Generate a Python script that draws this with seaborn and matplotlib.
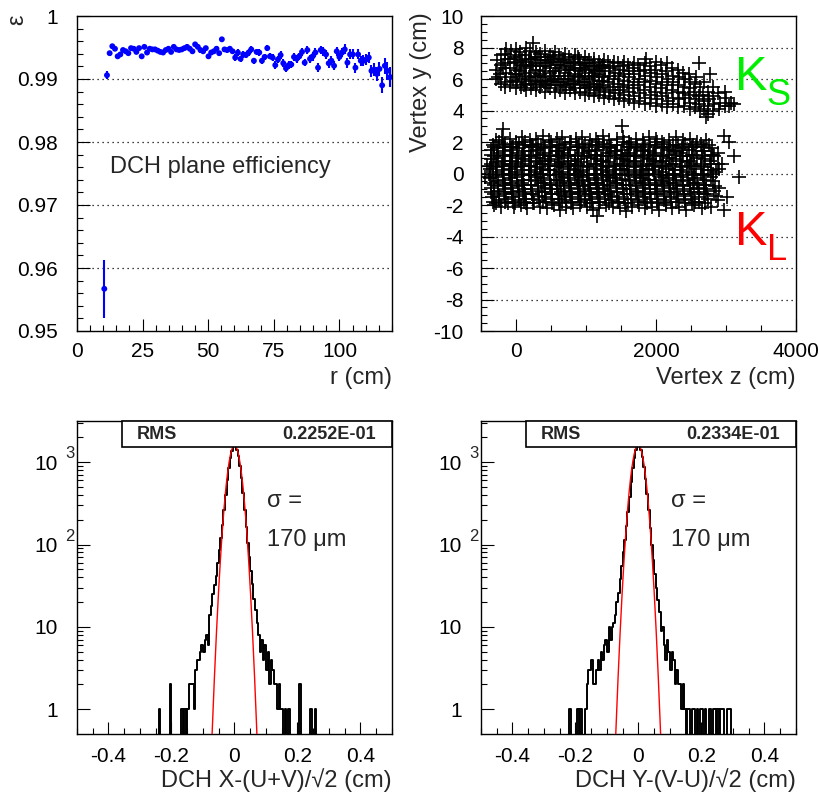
import numpy as np
import pandas as pd
import matplotlib
matplotlib.use("Agg")
import matplotlib.pyplot as plt
import seaborn as sns
from matplotlib.ticker import MultipleLocator, FixedLocator, FixedFormatter, NullFormatter
from matplotlib.patches import Rectangle

# ---------------- data ----------------
# DCH plane efficiency vs radius (bin centres, cm)
R_FIRST, R_LAST, R_NBINS = 10.4, 119.3, 108
EFF = [0.9567, 0.9906, 0.9941, 0.9952, 0.9948, 0.9936, 0.9939, 0.9946, 0.9944, 0.9941,
       0.9949, 0.9948, 0.9943, 0.9949, 0.9936, 0.9951, 0.9942, 0.9948, 0.9947, 0.9947,
       0.9945, 0.9943, 0.9942, 0.9946, 0.9948, 0.9943, 0.9951, 0.9947, 0.9946, 0.9947,
       0.9949, 0.9951, 0.9948, 0.9944, 0.9955, 0.9951, 0.9946, 0.9944, 0.9949, 0.9936,
       0.9942, 0.9944, 0.9948, 0.9941, 0.9963, 0.9947, 0.9946, 0.9948, 0.9944, 0.9934,
       0.9942, 0.9932, 0.9939, 0.9938, 0.9942, 0.9947, 0.9929, 0.9943, 0.9942, 0.9929,
       0.9935, 0.9949, 0.9936, 0.9934, 0.9922, 0.9931, 0.9938, 0.9925, 0.9917, 0.9922,
       0.9923, 0.9935, 0.9932, 0.9936, 0.9943, 0.9926, 0.9946, 0.9932, 0.9936, 0.9942,
       0.9918, 0.9946, 0.9944, 0.9939, 0.9925, 0.9929, 0.9921, 0.9944, 0.9935, 0.9942,
       0.9947, 0.9926, 0.9939, 0.9939, 0.9918, 0.9939, 0.9929, 0.9929, 0.9931, 0.9934,
       0.9913, 0.9915, 0.9908, 0.9916, 0.9890, 0.9921, 0.9913, 0.9903]
EFF_ERR_E4 = [46, 6, 4, 4, 3, 3, 3, 3, 3, 3,
              3, 3, 3, 3, 3, 3, 3, 3, 3, 3,
              3, 3, 3, 3, 3, 3, 3, 3, 3, 3,
              3, 4, 3, 4, 3, 4, 4, 4, 4, 4,
              4, 4, 4, 4, 4, 4, 4, 4, 4, 5,
              5, 5, 5, 5, 5, 5, 5, 5, 5, 5,
              5, 5, 5, 6, 6, 6, 6, 6, 6, 6,
              6, 6, 6, 6, 6, 6, 6, 6, 7, 7,
              7, 7, 7, 7, 7, 7, 7, 7, 7, 7,
              8, 8, 8, 8, 8, 8, 8, 9, 9, 9,
              10, 10, 11, 11, 13, 13, 14, 16]

# Vertex scatter: "z,y" pairs, z in units of 10 cm, y in units of 0.1 cm
KL_POINTS = """
-29,21 -20,23 -9,22 0,20 9,23 20,21 28,22 39,24 47,21 58,22 66,23 77,20 86,22 95,23 106,21 114,22 125,24 133,21 144,22 153,23 162,20 171,22 181,21 190,23 200,22 209,20 219,21 228,23 238,21 249,22 259,20 271,21
-33,18 -24,20 -15,19 -6,17 4,19 13,20 23,18 31,19 42,17 50,20 61,18 70,19 79,20 89,17 98,19 108,18 117,20 126,19 136,17 145,18 155,20 164,19 173,17 183,19 192,18 202,20 211,19 220,17 231,18 241,19 252,17 264,19 276,18
-35,15 -26,16 -17,17 -7,15 2,16 11,14 21,17 30,15 40,16 49,17 58,14 68,16 77,15 87,17 96,16 105,14 115,15 124,17 134,16 143,14 152,15 162,17 171,16 181,15 190,14 199,17 209,16 218,15 228,14 237,16 247,15 257,17 268,14 280,16
-36,12 -27,13 -18,14 -8,12 1,13 10,11 19,14 29,12 38,13 47,11 57,14 66,13 75,12 85,11 94,13 104,14 113,12 122,11 132,13 141,14 150,12 160,13 169,11 178,14 188,12 197,13 207,11 216,12 226,14 235,13 245,11 255,12 266,14 278,12 289,13
-35,9 -25,10 -16,11 -6,8 3,10 13,9 22,11 31,10 41,8 50,9 60,11 69,10 78,8 88,9 97,11 107,10 116,9 125,8 135,11 144,10 153,9 163,11 172,8 182,10 191,9 200,11 210,8 219,10 229,9 238,11 248,8 259,10 270,9 283,11
-36,6 -28,7 -19,8 -9,6 0,7 9,5 18,8 28,7 37,6 46,8 56,5 65,7 74,6 84,8 93,7 102,5 112,6 121,8 131,7 140,5 149,6 159,8 168,7 178,5 187,6 196,8 206,7 215,5 225,6 234,8 244,7 254,5 265,6 277,8 288,6
-37,3 -27,4 -17,5 -8,3 2,4 11,2 21,5 30,4 39,3 49,2 58,5 67,4 77,3 86,5 96,2 105,4 114,3 124,5 133,4 143,2 152,3 161,5 171,4 180,2 190,3 199,5 208,4 218,3 227,2 237,4 247,5 257,3 268,4 279,2 290,3
-38,0 -29,1 -20,2 -10,0 -1,1 8,-1 18,2 27,1 36,0 46,2 55,-1 64,1 74,0 83,2 92,1 102,-1 111,0 121,2 130,1 139,-1 149,0 158,2 168,1 177,-1 186,0 196,2 205,1 215,-1 224,0 234,2 244,1 254,-1 264,0 275,2 286,1
-37,-3 -28,-2 -18,-1 -9,-3 1,-2 10,-4 19,-1 29,-2 38,-3 48,-1 57,-4 66,-2 76,-3 85,-1 94,-2 104,-4 113,-3 123,-1 132,-2 141,-3 151,-4 160,-1 170,-2 179,-3 188,-1 198,-4 207,-2 217,-3 226,-1 236,-2 246,-4 256,-3 267,-1 279,-2
-36,-6 -26,-5 -17,-4 -7,-6 2,-5 12,-7 21,-4 31,-5 40,-6 49,-4 59,-7 68,-5 77,-6 87,-4 96,-5 106,-7 115,-6 124,-4 134,-5 143,-6 153,-7 162,-4 171,-5 181,-6 190,-4 200,-7 209,-5 218,-6 228,-4 238,-5 248,-7 258,-6 269,-4 281,-5
-35,-9 -26,-8 -16,-7 -7,-9 3,-8 12,-10 22,-7 31,-8 41,-9 50,-7 59,-10 69,-8 78,-9 88,-7 97,-8 106,-10 116,-9 125,-7 135,-8 144,-9 153,-10 163,-7 172,-8 182,-9 191,-7 201,-10 210,-8 220,-9 229,-7 239,-8 249,-10 260,-9 272,-7 284,-8
-35,-12 -25,-11 -16,-10 -6,-12 4,-11 13,-13 22,-10 32,-11 41,-12 51,-10 60,-13 69,-11 79,-12 88,-10 98,-11 107,-13 116,-12 126,-10 135,-11 145,-12 154,-13 163,-10 173,-11 182,-12 192,-10 201,-13 211,-11 220,-12 230,-10 240,-11 250,-13 261,-12 272,-10 283,-11
-34,-15 -24,-14 -15,-13 -5,-15 4,-14 14,-16 23,-13 33,-14 42,-15 51,-13 61,-16 70,-14 80,-15 89,-13 98,-14 108,-16 117,-15 127,-13 136,-14 145,-15 155,-16 164,-13 174,-14 183,-15 192,-13 202,-16 211,-14 221,-15 230,-13 240,-14 251,-16 262,-15 273,-13 286,-14
-33,-18 -24,-17 -14,-16 -4,-18 5,-17 15,-19 24,-16 33,-17 43,-18 52,-16 62,-19 71,-17 80,-18 90,-16 99,-17 109,-19 118,-18 127,-16 137,-17 146,-18 156,-19 165,-16 174,-17 184,-18 193,-16 203,-19 212,-17 221,-18 231,-16 241,-17 251,-19 262,-18 274,-16 288,-17
-31,-20 -22,-21 -12,-19 -3,-21 7,-20 16,-22 26,-19 35,-21 44,-22 54,-20 63,-23 72,-21 82,-22 91,-20 101,-21 110,-23 119,-22 129,-20 138,-21 148,-22 157,-24 166,-21 176,-20 185,-22 195,-21 204,-23 214,-20 223,-22 233,-21 243,-23 254,-20 266,-22 279,-21
-31,17 -18,18 -4,17 10,18 24,17 36,18 51,17 63,18 77,17 90,18 104,17 118,18 130,17 145,18 158,17 171,18 185,17 198,18 212,17 225,18 239,17 253,18 268,17
-32,11 -19,12 -5,11 8,12 22,11 35,12 48,11 62,12 75,11 89,12 102,11 116,12 129,11 142,12 156,11 170,12 183,11 196,12 210,11 223,12 237,11 251,12 266,11 281,12
-33,5 -20,6 -6,5 7,6 21,5 34,6 47,5 61,6 74,5 88,6 101,5 115,6 128,5 141,6 155,5 168,6 182,5 195,6 209,5 222,6 236,5 250,6 264,5 279,6
-33,-1 -19,0 -6,-1 8,0 21,-1 35,0 48,-1 62,0 75,-1 89,0 102,-1 116,0 129,-1 143,0 156,-1 170,0 183,-1 197,0 210,-1 224,0 238,-1 252,0 267,-1 282,0
-32,-7 -18,-6 -5,-7 9,-6 22,-7 36,-6 49,-7 63,-6 76,-7 90,-6 103,-7 117,-6 130,-7 144,-6 157,-7 171,-6 184,-7 198,-6 211,-7 225,-6 239,-7 253,-6 268,-7
-31,-13 -17,-12 -4,-13 10,-12 23,-13 37,-12 50,-13 64,-12 77,-13 91,-12 104,-13 118,-12 131,-13 145,-12 158,-13 172,-12 185,-13 199,-12 212,-13 226,-12 240,-13 254,-12 269,-13
-29,-19 -15,-18 -2,-19 12,-18 25,-19 39,-18 52,-19 66,-18 79,-19 93,-18 106,-19 120,-18 133,-19 147,-18 160,-19 174,-18 187,-19 201,-18 214,-19 228,-18 242,-19 256,-18 270,-19
-19,28 -44,-2 -42,5 151,30 116,-27 297,24 304,20 311,11 318,-2 302,-15 297,-23 290,-9 295,6
"""
KS_POINTS = """
-28,60 -29,66 -27,72 -22,57 -23,63 -21,69 -22,75
-15,55 -16,58 -14,64 -15,70 -16,76 -14,79 -8,56 -7,61 -9,67 -8,73 -7,78
0,54 1,58 -1,63 0,66 1,70 -1,74 0,79 7,55 8,60 6,65 7,69 8,72 6,77
14,53 15,57 13,62 14,67 15,71 13,75 14,80 21,54 22,59 20,64 21,68 22,73 20,78 25,83
28,53 29,56 27,61 28,66 29,70 27,74 28,77 35,55 36,58 34,63 35,68 36,72 34,76
42,52 43,57 41,61 42,65 43,70 41,74 42,78 49,54 50,59 48,64 49,67 50,71 48,75
56,52 57,56 55,60 56,65 57,69 55,73 56,77 63,53 64,58 62,62 63,67 64,71 62,75
70,51 71,55 69,60 70,64 71,68 69,72 70,76 77,53 78,57 76,62 77,66 78,70 76,74
84,51 85,54 83,59 84,63 85,67 83,71 84,75 91,52 92,56 90,61 91,65 92,69 90,73
98,50 99,54 97,58 98,62 99,66 97,70 98,74 105,51 106,55 104,60 105,64 106,68 104,72
112,49 113,53 111,57 112,62 113,66 111,70 112,73 119,50 120,54 118,59 119,63 120,67 118,71
126,48 127,52 125,56 126,61 127,65 125,69 126,72 133,49 134,53 132,58 133,62 134,67 132,71
140,47 141,51 139,55 140,60 141,64 139,68 140,71 147,48 148,53 146,57 147,62 148,66 146,70
154,46 155,50 153,55 154,59 155,63 153,68 154,71 161,47 162,52 160,56 161,61 162,65 160,69
168,45 169,49 167,54 168,58 169,63 167,67 168,70 176,46 177,51 175,56 176,60 177,65 175,69
184,44 185,48 183,53 184,58 185,62 183,66 184,70 186,73 192,45 193,50 191,55 192,59 193,64 191,68
200,43 201,47 199,52 200,57 201,61 199,66 200,71 208,44 209,49 207,54 208,58 209,63 207,69
216,42 217,46 215,51 216,56 217,60 215,65 216,70 224,44 225,48 223,53 224,58 225,62 223,67
232,42 233,47 231,52 232,56 233,61 231,66 240,43 241,48 239,51 240,55 241,60 239,64
248,41 249,45 247,50 248,54 249,58 247,63 256,42 257,47 255,52 256,57 257,61
262,70 263,40 261,44 262,49 263,55 268,41 269,46 267,50 268,58
275,38 274,43 276,47 275,52 277,63 282,40 283,44 281,49 282,55
272,36 290,41 291,45 289,51 299,52 298,43 300,48 305,43 307,45 311,44
-25,61 -18,67 -12,73 -4,59 -3,71 4,63 4,75 11,56 11,68 18,61 18,73 25,57 25,69 32,62 32,74
39,59 39,68 46,56 46,72 53,62 53,74 60,58 60,69 67,56 67,73 74,60 74,66 81,57 81,70
88,62 88,74 95,58 95,67 102,56 102,70 109,61 109,68 116,55 116,65 123,59 123,68
"""

# Residual histograms (bin width 0.005 cm, range -0.5..0.5)
HIST_LO, HIST_HI, HIST_NBINS = -0.5, 0.5, 200
HX_FIRST_EDGE = -0.240
HX_COUNTS = [1, 0, 0, 0, 0, 0, 0, 2, 0, 0,
             0, 0, 0, 0, 1, 0, 1, 0, 1, 2,
             2, 2, 1, 3, 4, 4, 5, 6, 5, 7,
             8, 6, 14, 18, 25, 32, 42, 60, 85, 120,
             175, 260, 400, 600, 860, 1130, 1380, 1560, 1580, 1420,
             1190, 900, 640, 420, 265, 165, 105, 70, 48, 33,
             22, 16, 11, 8, 5, 7, 4, 6, 3, 5,
             2, 4, 3, 2, 2, 1, 2, 1, 1, 0,
             1, 0, 1, 0, 0, 0, 0, 0, 0, 2,
             0, 0, 0, 0, 0, 0, 1, 0, 0, 1]
HY_FIRST_EDGE = -0.220
HY_COUNTS = [1, 0, 0, 0, 0, 1, 0, 1, 0, 0,
             1, 2, 3, 3, 4, 2, 2, 3, 4, 3,
             5, 4, 6, 7, 5, 10, 7, 10, 11, 14,
             20, 26, 38, 55, 80, 115, 170, 250, 380, 580,
             840, 1120, 1390, 1600, 1580, 1400, 1150, 880, 620, 410,
             260, 160, 100, 65, 44, 30, 21, 15, 9, 10,
             6, 4, 7, 5, 3, 5, 4, 2, 3, 2,
             2, 1, 2, 1, 0, 1, 1, 0, 1, 1,
             0, 1, 0, 1, 1, 0, 1, 0, 0, 1,
             0, 1, 1, 0, 1, 0, 1, 1, 0, 0,
             1, 1, 1]
FIT_X = dict(amp=1600.0, mean=0.0, sigma=0.0177)
FIT_Y = dict(amp=1620.0, mean=-0.001, sigma=0.0177)
RMS_X_TEXT = "0.2252E-01"
RMS_Y_TEXT = "0.2334E-01"

# ---------------- style ----------------
sns.set_theme(style="white")
plt.rcParams["font.family"] = ["Liberation Sans", "DejaVu Sans"]
plt.rcParams["axes.unicode_minus"] = False
plt.rcParams["mathtext.fontset"] = "custom"
plt.rcParams["mathtext.rm"] = "Liberation Sans"

W, H = 820, 794
fig = plt.figure(figsize=(W / 100, H / 100), dpi=100)
fig.patch.set_facecolor("white")


def px_axes(l, t, r, b):
    return fig.add_axes([l / W, 1 - b / H, (r - l) / W, (b - t) / H])


def ftext(x, y, s, **kw):
    return fig.text(x / W, 1 - y / H, s, **kw)


def style(ax, ypad):
    ax.set_facecolor("white")
    for sp in ax.spines.values():
        sp.set_visible(True)
        sp.set_color("black")
        sp.set_linewidth(1.0)
    ax.tick_params(which="both", direction="in", top=False, right=False,
                   left=True, bottom=True, color="black", width=0.8,
                   labelsize=15, labelcolor="black")
    ax.tick_params(which="major", length=9)
    ax.tick_params(which="minor", length=4.5)
    ax.tick_params(axis="y", which="major", pad=ypad)
    ax.tick_params(axis="x", which="major", pad=8)
    ax.set_xlabel("")
    ax.set_ylabel("")
    ax.grid(False)


def dotted_grid(ax, values):
    for v in values:
        ax.axhline(v, color="black", lw=0.9, ls=(0, (1, 3)), zorder=0.5)


ax1 = px_axes(77, 16, 392, 331)
ax2 = px_axes(481, 16, 796, 331)
ax3 = px_axes(77, 421, 392, 734)
ax4 = px_axes(481, 421, 796, 734)

# ---------------- panel 1: efficiency ----------------
r_cm = np.linspace(R_FIRST, R_LAST, R_NBINS)
eff = np.array(EFF)
eff_err = np.array(EFF_ERR_E4) * 1e-4
ax1.errorbar(r_cm, eff, yerr=eff_err, fmt="none", ecolor="#0000ff",
             elinewidth=1.5, capsize=0, zorder=2)
sns.scatterplot(x=r_cm, y=eff, color="#0000ff", s=18, edgecolor="none",
                ax=ax1, zorder=3, legend=False)
ax1.set_xlim(0, 120)
ax1.set_ylim(0.95, 1.0)
style(ax1, 13.5)
ax1.xaxis.set_major_locator(FixedLocator([0, 25, 50, 75, 100]))
ax1.xaxis.set_major_formatter(FixedFormatter(["0", "25", "50", "75", "100"]))
ax1.xaxis.set_minor_locator(MultipleLocator(5))
ax1.yaxis.set_major_locator(FixedLocator([0.95, 0.96, 0.97, 0.98, 0.99, 1.0]))
ax1.yaxis.set_major_formatter(FixedFormatter(["0.95", "0.96", "0.97", "0.98", "0.99", "1"]))
ax1.yaxis.set_minor_locator(MultipleLocator(0.002))
dotted_grid(ax1, [0.96, 0.97, 0.98, 0.99])
ftext(17, 20, "ε", fontsize=17, rotation=90, ha="center", va="center")
ftext(110, 173, "DCH plane efficiency", fontsize=17, va="baseline")
ftext(392, 378, "r (cm)", fontsize=17, ha="right", va="center")


# ---------------- panel 2: vertex scatter ----------------
def parse_points(s):
    pairs = np.array([[float(v) for v in p.split(",")] for p in s.split()])
    return pairs[:, 0] * 10.0, pairs[:, 1] / 10.0


kl_z, kl_y = parse_points(KL_POINTS)
ks_z, ks_y = parse_points(KS_POINTS)
for zz, yy in ((kl_z, kl_y), (ks_z, ks_y)):
    sns.scatterplot(x=zz, y=yy, marker="+", s=100, color="black",
                    linewidth=1.2, ax=ax2, zorder=2, legend=False)
ax2.set_xlim(-500, 4000)
ax2.set_ylim(-10, 10)
style(ax2, 12.5)
ax2.xaxis.set_major_locator(FixedLocator([0, 2000, 4000]))
ax2.xaxis.set_major_formatter(FixedFormatter(["0", "2000", "4000"]))
ax2.xaxis.set_minor_locator(MultipleLocator(500))
yt = list(range(-10, 11, 2))
ax2.yaxis.set_major_locator(FixedLocator(yt))
ax2.yaxis.set_major_formatter(FixedFormatter([str(v) for v in yt]))
ax2.yaxis.set_minor_locator(MultipleLocator(0.5))
dotted_grid(ax2, [v for v in yt if -10 < v < 10])
ftext(735, 90, "K", fontsize=35, color="#00ee00", va="baseline")
ftext(766, 105, "S", fontsize=26, color="#00ee00", va="baseline")
ftext(735, 245, "K", fontsize=35, color="#ff0000", va="baseline")
ftext(767, 260, "L", fontsize=26, color="#ff0000", va="baseline")
ftext(421, 12, "Vertex y (cm)", fontsize=17, rotation=90, ha="center", va="top")
ftext(796, 378, "Vertex z (cm)", fontsize=17, ha="right", va="center")

# ---------------- panels 3,4: residual histograms ----------------
bw = (HIST_HI - HIST_LO) / HIST_NBINS
xfine = np.linspace(HIST_LO, HIST_HI, 2001)

for ax, first, counts, fit, rms, lpx, title in (
        (ax3, HX_FIRST_EDGE, HX_COUNTS, FIT_X, RMS_X_TEXT, 77, "DCH X-(U+V)/√2 (cm)"),
        (ax4, HY_FIRST_EDGE, HY_COUNTS, FIT_Y, RMS_Y_TEXT, 481, "DCH Y-(V-U)/√2 (cm)")):
    hist_df = pd.DataFrame({
        "resid": first + bw * (np.arange(len(counts)) + 0.5),
        "count": np.array(counts, dtype=float),
    })
    sns.histplot(data=hist_df, x="resid", weights="count", bins=HIST_NBINS,
                 binrange=(HIST_LO, HIST_HI), element="step", fill=False,
                 color="black", linewidth=1.4, ax=ax, zorder=2)
    gauss = fit["amp"] * np.exp(-0.5 * ((xfine - fit["mean"]) / fit["sigma"]) ** 2)
    sns.lineplot(x=xfine, y=gauss, color="#ff0000", linewidth=1.0, ax=ax,
                 zorder=3, legend=False)
    ax.set_yscale("log")
    ax.set_xlim(HIST_LO, HIST_HI)
    ax.set_ylim(0.5, 10 ** 3.5)
    style(ax, 13.5)
    ax.yaxis.set_major_locator(FixedLocator([1, 10, 100, 1000]))
    ax.yaxis.set_major_formatter(FixedFormatter(["1", "10", "10", "10"]))
    minors = [m * d for d in (1, 10, 100, 1000) for m in range(2, 10)]
    ax.yaxis.set_minor_locator(FixedLocator(minors))
    ax.yaxis.set_minor_formatter(NullFormatter())
    ax.tick_params(axis="y", which="minor", length=4.5)
    ax.xaxis.set_major_locator(FixedLocator([-0.4, -0.2, 0, 0.2, 0.4]))
    ax.xaxis.set_major_formatter(FixedFormatter(["-0.4", "-0.2", "0", "0.2", "0.4"]))
    ax.xaxis.set_minor_locator(MultipleLocator(0.05))
    ax.tick_params(axis="x", which="major", pad=9)
    # exponents of the log labels
    for val, sup in ((100, "2"), (1000, "3")):
        ax.text(-12 / 315, val * 1.26, sup, transform=ax.get_yaxis_transform(),
                fontsize=12, ha="left", va="center")
    # statistics box
    ax.add_patch(Rectangle((0.143, 0.917), 0.857, 0.083, transform=ax.transAxes,
                           facecolor="white", edgecolor="black", lw=1.2,
                           zorder=5, clip_on=False))
    ax.text(0.19, 0.958, "RMS", transform=ax.transAxes, fontsize=13,
            fontweight="bold", va="center", ha="left", zorder=6)
    ax.text(0.95, 0.958, rms, transform=ax.transAxes, fontsize=13,
            fontweight="bold", va="center", ha="right", zorder=6)
    sx = lpx + 190
    ftext(sx, 507, "σ =", fontsize=17, va="baseline")
    ftext(sx, 546, "170 μm", fontsize=17, va="baseline")
    ftext(lpx + 315, 780, title, fontsize=17, ha="right", va="center")

fig.savefig("out.png", dpi=100, facecolor="white")
